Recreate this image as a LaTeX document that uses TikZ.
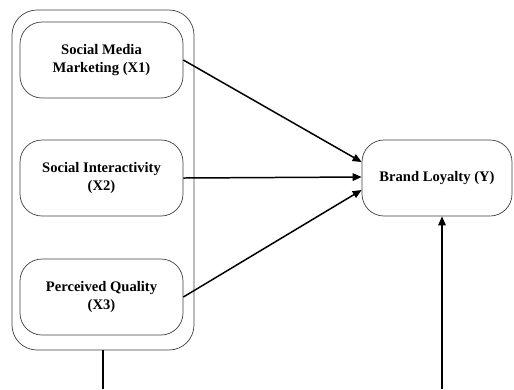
\documentclass[tikz,border=0pt]{standalone}
\usepackage{fontspec}
\setmainfont{Liberation Serif}
\usetikzlibrary{positioning,arrows.meta}

\tikzset{
  var/.style={rectangle, draw=black!75, rounded corners=4.4mm,
    minimum width=32.6mm, minimum height=15.2mm, align=center,
    font=\bfseries\fontsize{8.3}{10.2}\selectfont},
  link/.style={-{Triangle[length=1.8mm,width=1.5mm]}, line width=0.85pt}
}

\begin{document}
\begin{tikzpicture}
  \useasboundingbox (0,0) rectangle (102.8mm,-77.8mm);

  \node[var] (x1) at (20.3mm,-12mm) {Social Media\\Marketing (X1)};
  \node[var, below of=x1, yshift=-13.6mm] (x2) {Social Interactivity\\(X2)};
  \node[var, below of=x2, yshift=-13.8mm] (x3) {Perceived Quality\\(X3)};

  \node[
  rectangle,
  draw=black!75,
  rounded corners=5mm,
  minimum width=36.4mm,
  minimum height=68mm,
  xshift=0.3mm,
  yshift=-0.4mm] (grp) at (x2) {};

  \node[var, right of=x2, xshift=57.1mm, minimum width=30mm] (bl) {Brand Loyalty (Y)};

  \coordinate (grpout) at (grp.south |- 0,-77.8mm);
  \coordinate (blin) at ([xshift=1mm]bl.south |- 0,-77.8mm);

  \draw[link] (x1.east) -- ([yshift=3.2mm]bl.west);
  \draw[link] (x2.east) -- ([yshift=0.2mm]bl.west);
  \draw[link] (x3.east) -- ([yshift=-2.4mm]bl.west);
  \draw[line width=0.85pt] (grp.south) -- (grpout);
  \draw[link] (blin) -- ([xshift=1mm]bl.south);
\end{tikzpicture}
\end{document}
